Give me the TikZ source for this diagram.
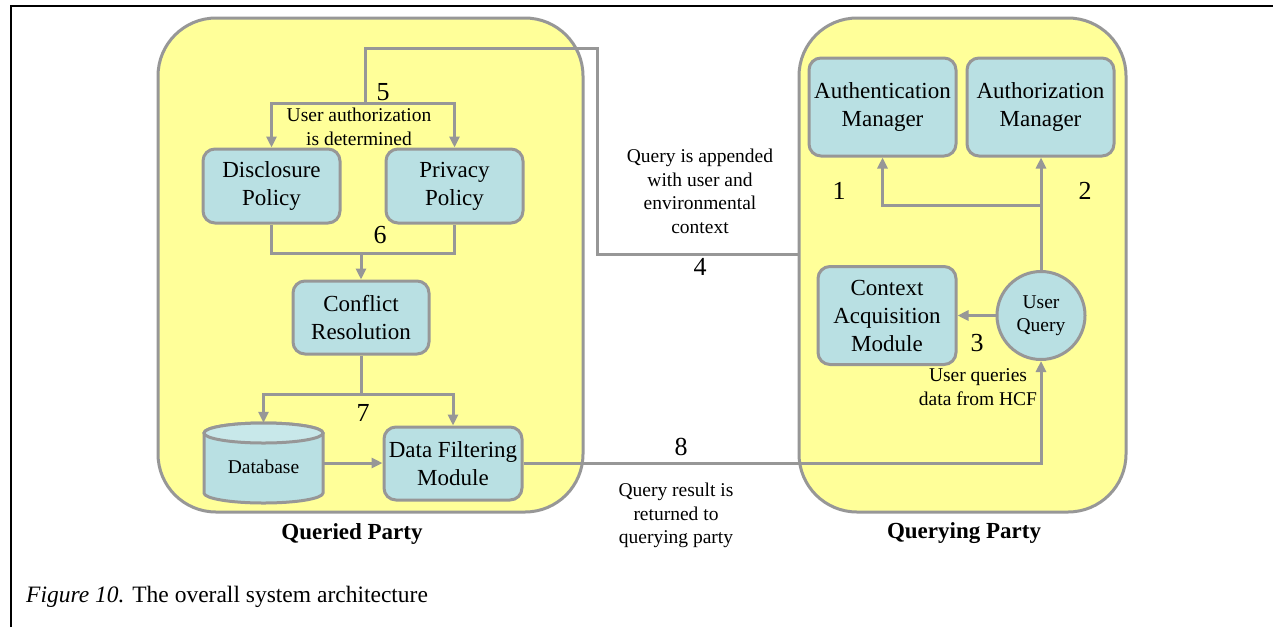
\documentclass[tikz,border=0pt]{standalone}
\usepackage{fontspec}
\setmainfont{Liberation Serif}
\usetikzlibrary{arrows.meta}
\definecolor{partyfill}{HTML}{FFFF99}
\definecolor{modfill}{HTML}{B9E0E3}
\definecolor{modtop}{HTML}{C8E8EA}
\definecolor{edgegray}{HTML}{979797}
\begin{document}
\begin{tikzpicture}[x=1pt,y=-1pt,
  party/.style={draw=edgegray, fill=partyfill, line width=3pt, rounded corners=58pt},
  module/.style={draw=edgegray, fill=modfill, line width=3pt, rounded corners=12pt,
    align=center, font=\fontsize{23}{28}\selectfont, inner sep=0pt},
  link/.style={draw=edgegray, line width=3pt},
  arr/.style={link, -{Triangle[length=11pt,width=10pt]}},
  lbl/.style={align=center, font=\fontsize{19.5}{23.5}\selectfont, inner sep=0pt},
  num/.style={font=\fontsize{26}{30}\selectfont, inner sep=0pt},
  partytitle/.style={font=\fontsize{23}{28}\selectfont\bfseries, inner sep=0pt}]

\useasboundingbox (0,0) rectangle (1273,627);
\fill[white] (0,0) rectangle (1273,627);
% frame of the figure
\draw[line width=2.2pt] (11,627) -- (11,6) -- (1273,6);

% the two parties
\draw[party] (158,18) rectangle (583,512);
\draw[party] (799,18) rectangle (1126,512);

% queried party modules
\node[module, minimum width=137pt, minimum height=74pt] (disc) at (271.5,186) {Disclosure\\Policy};
\node[module, minimum width=137pt, minimum height=74pt] (priv) at (454.5,186) {Privacy\\Policy};
\node[module, minimum width=136pt, minimum height=73pt] (conf) at (361,317.5) {Conflict\\Resolution};
\node[module, minimum width=138pt, minimum height=73pt] (dfm) at (453,463.5) {Data Filtering\\Module};

% database cylinder
\node[inner sep=0pt, minimum width=119pt, minimum height=80pt] (db) at (263.5,463) {};
\filldraw[draw=edgegray, fill=modfill, line width=3pt]
  (204,433) -- (204,493) arc[start angle=180, end angle=0, x radius=59.5, y radius=10]
  -- (323,433) arc[start angle=0, end angle=-180, x radius=59.5, y radius=10] -- cycle;
\filldraw[draw=edgegray, fill=modtop, line width=3pt] (263.5,433) ellipse [x radius=59.5, y radius=10];
\node[lbl] at (263.5,467) {Database};

% querying party modules
\node[module, minimum width=147pt, minimum height=98pt] (authn) at (882.5,107) {Authentication\\Manager};
\node[module, minimum width=147pt, minimum height=98pt] (authz) at (1040.5,107) {Authorization\\Manager};
\node[module, minimum width=138pt, minimum height=98pt] (cam) at (887,315.5) {Context\\Acquisition\\Module};
\node[draw=edgegray, fill=modfill, line width=3pt, circle, minimum size=88pt, inner sep=0pt,
  align=center, font=\fontsize{19.5}{23}\selectfont] (uq) at (1041,315.5) {User\\Query};

% steps 1-3
\coordinate (split) at (1041,205);
\draw[arr] (uq.north) -- (uq.north |- authz.south);
\draw[arr] (split) -| (authn.south);
\draw[arr] (uq.west) -- (cam.east |- uq.west);

% steps 4 and 5
\coordinate (qin) at (799,254);
\coordinate (bend4) at (597,48);
\coordinate (fork5) at (365,103);
\draw[link] (qin) -| (bend4) -| (fork5);
\draw[arr] (fork5) -| (disc.north);
\draw[arr] (fork5) -| (priv.north);

% step 6
\coordinate (merge6) at (361,253);
\draw[link] (disc.south) |- (merge6) -| (priv.south);
\draw[arr] (merge6) -- (conf.north);

% step 7
\coordinate (fork7) at (361,394);
\draw[link] (conf.south) -- (fork7);
\draw[arr] (fork7) -| (db.north);
\draw[arr] (fork7) -| (dfm.north);
\draw[arr] (db.east) -- (dfm.west |- db.east);

% step 8
\draw[arr] (dfm.east) -| (uq.south);

% step labels
\node[num] at (383,92) {5};
\node[lbl] at (359,127) {User authorization\\is determined};
\node[num] at (380,235) {6};
\node[num] at (363,413) {7};
\node[lbl] at (700,191.5) {Query is appended\\with user and\\environmental\\context};
\node[num] at (700,267) {4};
\node[num] at (839,191) {1};
\node[num] at (1085,191) {2};
\node[num] at (977,343) {3};
\node[lbl] at (978,387) {User queries\\data from HCF};
\node[num] at (681,447) {8};
\node[lbl] at (676,515.5) {Query result is\\returned to\\querying party};

% party names
\node[partytitle] at (352,534) {Queried Party};
\node[partytitle] at (964,533) {Querying Party};

% caption
\node[anchor=west, inner sep=0pt, font=\fontsize{23.5}{28}\selectfont] at (26,597)
  {\textit{Figure 10.} The overall system architecture};
\end{tikzpicture}
\end{document}
